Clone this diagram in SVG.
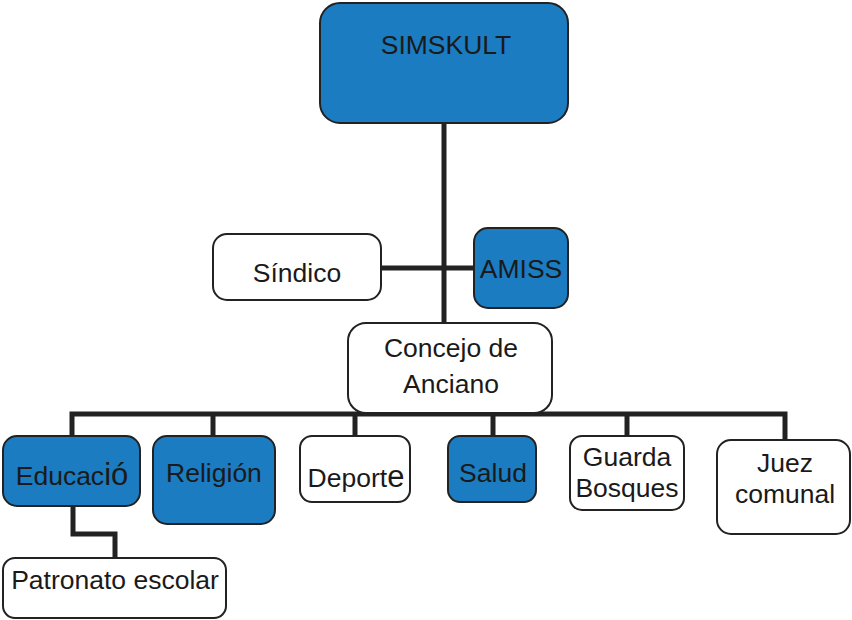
<svg xmlns="http://www.w3.org/2000/svg" width="852" height="620" viewBox="0 0 852 620">
<style>
.box{stroke:#222;stroke-width:2}
.blue{fill:#1b7cc1}
.white{fill:#fff}
.t{font-family:"Liberation Sans",Arial,sans-serif;font-size:26.5px;fill:#1a1a1a;text-anchor:middle}
.big{font-size:31px}
.c{fill:none;stroke:#222;stroke-width:5}
</style>
<rect width="852" height="620" fill="#fff"/>
<g id="connectors">
<path class="c" d="M444,123 V325"/>
<path class="c" d="M381,268 H474"/>
<path class="c" d="M72,436 V414 H630 M630,414 H785 V440"/>
<path class="c" d="M213,414 V436 M355,414 V436 M493,414 V436 M627,414 V436"/>
<path class="c" d="M73,506 V534 H115 V558"/>
</g>
<g id="simskult"><rect class="box blue" x="320" y="3" width="248" height="120" rx="20"/><text class="t" x="446" y="54">SIMSKULT</text></g>
<g id="sindico"><rect class="box white" x="213" y="234" width="168" height="66" rx="14"/><text class="t" x="297" y="282">Síndico</text></g>
<g id="amiss"><rect class="box blue" x="474" y="228" width="94" height="80" rx="14"/><text class="t" x="521" y="278">AMISS</text></g>
<g id="concejo"><rect class="box white" x="348" y="323" width="204" height="90" rx="18"/><text class="t" x="451" y="357">Concejo de</text><text class="t" x="451" y="393">Anciano</text></g>
<g id="educacion"><rect class="box blue" x="3" y="436" width="137" height="70" rx="14"/><text class="t" x="72" y="485">Educac<tspan class="big">ió</tspan></text></g>
<g id="religion"><rect class="box blue" x="153" y="436" width="122" height="88" rx="14"/><text class="t" x="214" y="482">Religión</text></g>
<g id="deporte"><rect class="box white" x="300" y="436" width="110" height="66" rx="12"/><text class="t" x="356" y="487">Deport<tspan class="big">e</tspan></text></g>
<g id="salud"><rect class="box blue" x="448" y="436" width="88" height="66" rx="12"/><text class="t" x="493" y="482">Salud</text></g>
<g id="guarda"><rect class="box white" x="570" y="436" width="114" height="74" rx="12"/><text class="t" x="627" y="466">Guarda</text><text class="t" x="627" y="497">Bosques</text></g>
<g id="juez"><rect class="box white" x="717" y="440" width="133" height="94" rx="14"/><text class="t" x="785" y="472">Juez</text><text class="t" x="785" y="503">comunal</text></g>
<g id="patronato"><rect class="box white" x="3" y="558" width="223" height="60" rx="12"/><text class="t" x="115" y="589">Patronato escolar</text></g>
</svg>
